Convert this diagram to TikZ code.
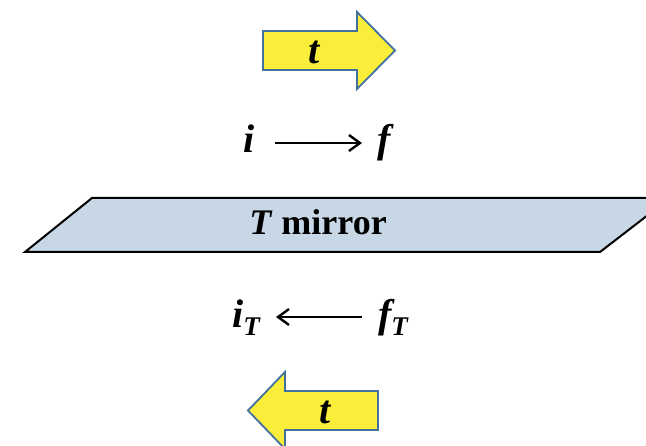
\documentclass[tikz,border=0pt]{standalone}
\usepackage{fontspec}
\setmainfont{Liberation Serif}
\usetikzlibrary{arrows.meta}
\definecolor{arrowfill}{HTML}{FAEE3A}
\definecolor{arrowedge}{HTML}{41719C}
\definecolor{mirrorfill}{HTML}{C8D7E6}
\tikzset{
  blockarrow/.style={fill=arrowfill, draw=arrowedge, line width=1.8pt, line join=miter},
  sym/.style={font=\fontsize{40}{40}\selectfont\bfseries\itshape, inner sep=0pt, anchor=base},
  conn/.style={line width=2.4pt, -{Straight Barb[length=11pt,width=16pt,line width=2.4pt]}},
}
\begin{document}
\begin{tikzpicture}[x=1pt,y=-1pt]
\useasboundingbox (0,0) rectangle (646,446);
% top block arrow
\draw[blockarrow] (263,31) -- (357,31) -- (357,12) -- (395,50.5) -- (357,89) -- (357,70) -- (263,70) -- cycle;
\node[sym] (ttop) at (314,64) {t};
% i -> f
\node[sym] (i) at (249,153) {i};
\node[sym] (f) at (384,153) {f};
\draw[conn] (275,143) coordinate (a1) -- (362,143) coordinate (a2);
% mirror
\draw[fill=mirrorfill, line width=2pt] (92,198) -- (670,198) -- (600,252) -- (25,252) -- cycle;
\node[font=\fontsize{36}{36}\selectfont\bfseries, inner sep=0pt, anchor=base] (mirror) at (318,235) {\textit{T} mirror};
% i_T <- f_T
\node[sym] (iT) at (246,328) {i\raisebox{-8pt}{\fontsize{27}{27}\selectfont T}};
\node[sym] (fT) at (393,328) {f\raisebox{-8pt}{\fontsize{27}{27}\selectfont T}};
\draw[conn] (362,317) coordinate (b1) -- (276,317) coordinate (b2);
% bottom block arrow
\draw[blockarrow] (378,391) -- (285,391) -- (285,372) -- (248,410.5) -- (285,449) -- (285,430) -- (378,430) -- cycle;
\node[sym] (tbot) at (325,424) {t};
\end{tikzpicture}
\end{document}
